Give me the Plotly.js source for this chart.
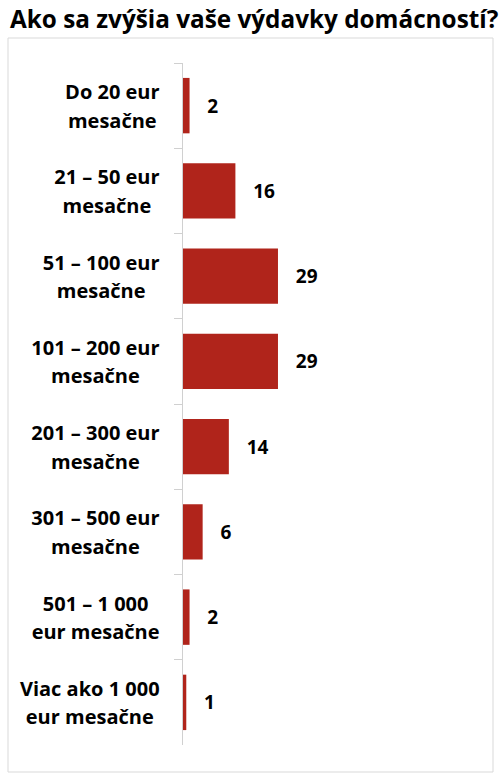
<!DOCTYPE html>
<html>
<head>
<meta charset="utf-8">
<script src="https://cdn.plot.ly/plotly-3.0.1.min.js"></script>
<style>
  html, body { margin: 0; padding: 0; background: #fff; }
  #chart { width: 504px; height: 780px; }
</style>
</head>
<body>
<div id="chart"></div>
<script>
var categories = [
  'Do 20 eur|mesačne',
  '21 – 50 eur|mesačne',
  '51 – 100 eur|mesačne',
  '101 – 200 eur|mesačne',
  '201 – 300 eur|mesačne',
  '301 – 500 eur|mesačne',
  '501 – 1 000|eur mesačne',
  'Viac ako 1 000|eur mesačne'
];
var values = [2, 16, 29, 29, 14, 6, 2, 1];

var LABEL_SIZE = 20;

// the original labels are centred; plotly right-aligns tick lines,
// so pad the shorter line on the right by half the width difference
var ctx = document.createElement('canvas').getContext('2d');
ctx.font = 'bold ' + LABEL_SIZE + 'px "Open Sans"';
var NBSP_EM = 0.26;

var labels = categories.map(function (c) {
  var lines = c.split('|');
  var widths = lines.map(function (l) { return ctx.measureText(l).width; });
  var maxW = Math.max.apply(null, widths);
  return lines.map(function (l, i) {
    var s = '<span style="font-size:' + LABEL_SIZE + 'px">' + l + '</span>';
    var pad = (maxW - widths[i]) / 2;
    if (pad > 0.5) {
      s += '<span style="font-size:' + (pad / NBSP_EM).toFixed(1) + 'px">\u00a0</span>';
    }
    return s;
  }).join('<br>');
});

var CHART = document.getElementById('chart');

var trace = {
  type: 'bar',
  orientation: 'h',
  x: values,
  y: labels,
  marker: {color: '#B0241B'},
  texttemplate: '\u00a0\u00a0\u00a0%{x}',
  textposition: 'outside',
  cliponaxis: false,
  textfont: {family: 'Open Sans', size: 19, weight: 'bold', color: '#000'},
  hoverinfo: 'none'
};

var layout = {
  width: 504,
  height: 780,
  margin: {l: 183, r: 21, t: 63, b: 35},
  paper_bgcolor: '#fff',
  plot_bgcolor: '#fff',
  showlegend: false,
  bargap: 0.35,
  font: {family: 'Open Sans', color: '#000'},
  title: {
    text: 'Ako sa zvýšia vaše výdavky domácností?',
    font: {family: 'Open Sans', size: 24.3, weight: 'bold', color: '#000'},
    xref: 'container', yref: 'container',
    x: 10 / 504, xanchor: 'left',
    y: 1 - 19 / 780, yanchor: 'middle'
  },
  xaxis: {
    range: [0, 91.6],
    visible: false,
    fixedrange: true
  },
  yaxis: {
    type: 'category',
    autorange: 'reversed',
    showline: true,
    linecolor: '#D0D0D0',
    linewidth: 1,
    ticks: 'outside',
    tickson: 'boundaries',
    ticklen: 8,
    tickcolor: '#D0D0D0',
    showgrid: false,
    ticklabelstandoff: 18,
    tickfont: {family: 'Open Sans', size: 22, weight: 'bold', color: '#000'},
    fixedrange: true
  },
  shapes: [{
    type: 'rect',
    xref: 'paper', yref: 'paper',
    x0: (8 - 183) / 300, x1: (493 - 183) / 300,
    y0: (745 - 772) / 682, y1: (745 - 38) / 682,
    line: {color: '#D9D9D9', width: 1},
    fillcolor: 'rgba(0,0,0,0)',
    layer: 'below'
  }]
};

Plotly.newPlot(CHART, [trace], layout, {displayModeBar: false, staticPlot: true});
</script>
</body>
</html>
